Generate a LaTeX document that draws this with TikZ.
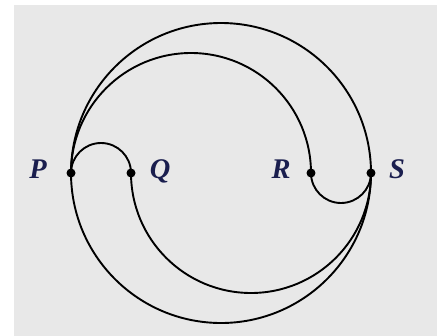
\documentclass[tikz,border=0pt]{standalone}
\usepackage{fontspec}
\setmainfont{Liberation Serif}
\definecolor{bggray}{HTML}{E8E8E8}
\definecolor{labcol}{HTML}{1A1E4E}
\tikzset{
  curve/.style={line width=1.8pt, black},
  dot/.style={circle, fill=black, inner sep=0pt, minimum size=0.3cm},
  lab/.style={text=labcol, font=\fontsize{27}{32}\selectfont\bfseries\itshape, anchor=base, inner sep=0pt}
}
\begin{document}
\begin{tikzpicture}
\useasboundingbox (-2.367,-5.433) rectangle (12.467,5.767);
\fill[bggray] (-1.9,-5.433) rectangle (12.2,5.6);
\node[dot] (P) at (0,0) {};
\node[dot] (Q) at (2,0) {};
\node[dot] (R) at (8,0) {};
\node[dot] (S) at (10,0) {};
% outer circle
\draw[curve] (P.center) arc[start angle=180, end angle=0, radius=5];
\draw[curve] (P.center) arc[start angle=180, end angle=360, radius=5];
% large inner arcs
\draw[curve] (P.center) arc[start angle=180, end angle=0, radius=4];
\draw[curve] (Q.center) arc[start angle=180, end angle=360, radius=4];
% small arcs
\draw[curve] (P.center) arc[start angle=180, end angle=0, radius=1];
\draw[curve] (R.center) arc[start angle=180, end angle=360, radius=1];
\node[lab] (Pl) at (-1.1,-0.18) {P};
\node[lab] (Ql) at (2.97,-0.18) {Q};
\node[lab] (Rl) at (7.0,-0.18) {R};
\node[lab] (Sl) at (10.87,-0.18) {S};
\end{tikzpicture}
\end{document}
